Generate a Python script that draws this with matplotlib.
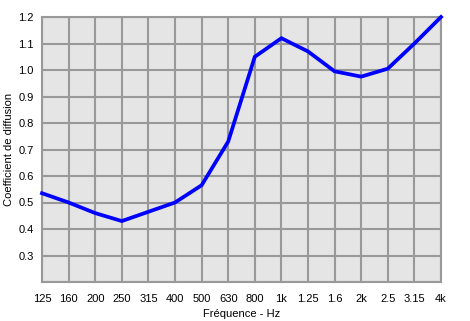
import matplotlib
matplotlib.use("Agg")
import matplotlib.pyplot as plt
import numpy as np

plt.rcParams["font.family"] = ["Liberation Sans", "DejaVu Sans"]

freq_labels = ["125", "160", "200", "250", "315", "400", "500", "630", "800",
               "1k", "1.25", "1.6", "2k", "2.5", "3.15", "4k"]
diffusion = [0.535, 0.50, 0.46, 0.43, 0.465, 0.50, 0.565, 0.73, 1.05,
             1.12, 1.07, 0.995, 0.975, 1.005, 1.10, 1.20]
y_ticks = [0.3, 0.4, 0.5, 0.6, 0.7, 0.8, 0.9, 1.0, 1.1, 1.2]

W, H = 470, 321
fig = plt.figure(figsize=(W / 100, H / 100), dpi=100)
ax = fig.add_axes([42 / W, (H - 282) / H, (441 - 42) / W, (282 - 17) / H])
ax.set_facecolor("#e5e5e5")

x = np.arange(len(freq_labels))
ax.plot(x, diffusion, color="#0000ff", lw=2.7, solid_joinstyle="miter", zorder=3, clip_on=False)

ax.set_xlim(0, len(freq_labels) - 1)
ax.set_ylim(0.2, 1.2)
ax.set_xticks(x)
ax.set_xticklabels(freq_labels)
ax.set_yticks(np.arange(0.2, 1.21, 0.1))
ax.set_yticklabels([""] + [f"{v:.1f}" for v in y_ticks])
ax.grid(True, color="#999999", lw=1.5)
ax.set_axisbelow(True)
for s in ax.spines.values():
    s.set_color("#999999")
    s.set_linewidth(1.5)
ax.tick_params(length=0, labelsize=8, pad=6)
ax.tick_params(axis="x", pad=9)

ax.set_xlabel("Fréquence - Hz", fontsize=8, labelpad=3)
ax.set_ylabel("Coefficient de diffusion", fontsize=8, labelpad=3)

fig.savefig("out.png", dpi=100)
